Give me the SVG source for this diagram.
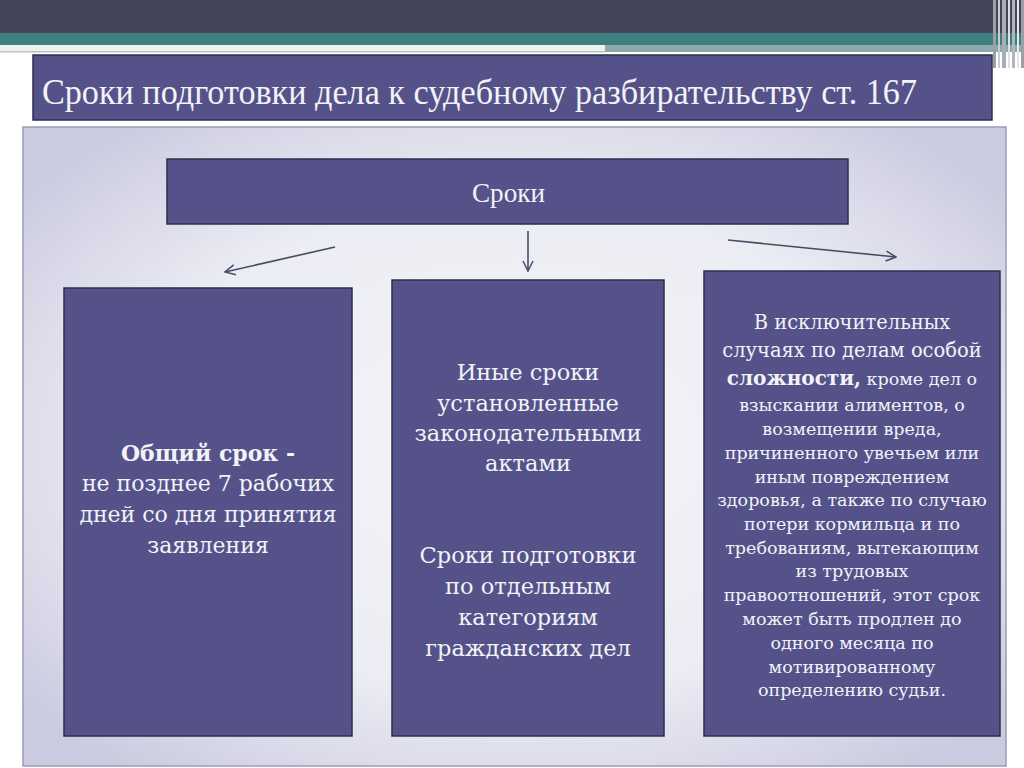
<svg xmlns="http://www.w3.org/2000/svg" width="1024" height="768" viewBox="0 0 1024 768">
<defs>
<radialGradient id="pg" cx="50%" cy="50%" r="65%">
<stop offset="0" stop-color="#f4f4f8"/>
<stop offset="0.6" stop-color="#ececf4"/>
<stop offset="1" stop-color="#cacae0"/>
</radialGradient>
<marker id="ah" viewBox="0 0 12 12" refX="11" refY="6" markerWidth="12" markerHeight="12" markerUnits="userSpaceOnUse" orient="auto">
<path d="M1,1 L11,6 L1,11" fill="none" stroke="#4a4a64" stroke-width="1.5"/>
</marker>
</defs>
<style>
.box{fill:#55528a;stroke:#2e2e4c;stroke-width:1.5}
.t{font-family:"DejaVu Serif","Liberation Serif",serif;fill:#f2f2f7;text-anchor:middle}
.h{font-family:"Liberation Serif","DejaVu Serif",serif;fill:#f2f2f7}
.c{stroke:#4a4a64;stroke-width:1.6;fill:none;marker-end:url(#ah)}
</style>
<rect width="1024" height="768" fill="#ffffff"/>
<rect x="0" y="0" width="1024" height="34" fill="#45455a"/>
<rect x="0" y="33" width="1024" height="12" fill="#3f7f7f"/>
<rect x="0" y="45" width="605" height="7" fill="#eef1f1"/>
<rect x="0" y="51" width="605" height="1.5" fill="#b8c4c4"/>
<rect x="605" y="45" width="419" height="7" fill="#8ea9a9"/>
<g id="stripes">
<rect x="993" y="0" width="3" height="68" fill="#9aa0a8"/>
<rect x="998" y="0" width="2" height="68" fill="#c8ccd2"/>
<rect x="1002" y="0" width="4" height="68" fill="#a8aeb6"/>
<rect x="1008" y="0" width="2" height="68" fill="#dde0e4"/>
<rect x="1012" y="0" width="3" height="68" fill="#b0b6bc"/>
<rect x="1017" y="0" width="2" height="68" fill="#e4e6ea"/>
<rect x="1021" y="0" width="3" height="68" fill="#9aa0a8"/>
</g>
<g id="title">
<rect x="33" y="55" width="959" height="65" fill="#55528a" stroke="#2e2e4c" stroke-width="1.5"/>
<text class="h" x="42" y="104" font-size="36" textLength="875" lengthAdjust="spacingAndGlyphs">Сроки подготовки дела к судебному разбирательству ст. 167</text>
</g>
<rect id="panel" x="23" y="127" width="983" height="639" fill="url(#pg)" stroke="#9c9cb4" stroke-width="1.5"/>
<g id="sroki">
<rect class="box" x="167" y="159" width="681" height="65"/>
<text class="h" x="472" y="202" font-size="28" textLength="73" lengthAdjust="spacingAndGlyphs">Сроки</text>
</g>
<g id="connectors">
<line class="c" x1="335" y1="247" x2="225" y2="272"/>
<line class="c" x1="528" y1="231" x2="528" y2="271"/>
<line class="c" x1="728" y1="240" x2="896" y2="257"/>
</g>
<g id="general">
<rect class="box" x="64" y="288" width="288" height="448"/>
<text class="t" font-size="22"><tspan x="208" y="461" font-weight="bold">Общий срок -</tspan><tspan x="208" y="491">не позднее 7 рабочих</tspan><tspan x="208" y="522">дней со дня принятия</tspan><tspan x="208" y="553">заявления</tspan></text>
</g>
<g id="other">
<rect class="box" x="392" y="280" width="272" height="456"/>
<text class="t" font-size="22.5"><tspan x="528" y="380">Иные сроки</tspan><tspan x="528" y="411">установленные</tspan><tspan x="528" y="441">законодательными</tspan><tspan x="528" y="471">актами</tspan></text>
<text class="t" font-size="22.5"><tspan x="528" y="563">Сроки подготовки</tspan><tspan x="528" y="594">по отдельным</tspan><tspan x="528" y="625">категориям</tspan><tspan x="528" y="656">гражданских дел</tspan></text>
</g>
<g id="exceptional">
<rect class="box" x="704" y="271" width="296" height="465"/>
<text class="t" font-size="19.5"><tspan x="852" y="329">В исключительных</tspan><tspan x="852" y="357">случаях по делам особой</tspan></text>
<text class="t" font-size="17.5"><tspan x="852" y="385"><tspan font-size="20" font-weight="bold">сложности,</tspan> кроме дел о</tspan><tspan x="852" y="411">взыскании алиментов, о</tspan><tspan x="852" y="435">возмещении вреда,</tspan><tspan x="852" y="459">причиненного увечьем или</tspan><tspan x="852" y="483">иным повреждением</tspan><tspan x="852" y="506">здоровья, а также по случаю</tspan><tspan x="852" y="530">потери кормильца и по</tspan><tspan x="852" y="554">требованиям, вытекающим</tspan><tspan x="852" y="577">из трудовых</tspan><tspan x="852" y="601">правоотношений, этот срок</tspan><tspan x="852" y="625">может быть продлен до</tspan><tspan x="852" y="649">одного месяца по</tspan><tspan x="852" y="673">мотивированному</tspan><tspan x="852" y="696">определению судьи.</tspan></text>
</g>
</svg>
